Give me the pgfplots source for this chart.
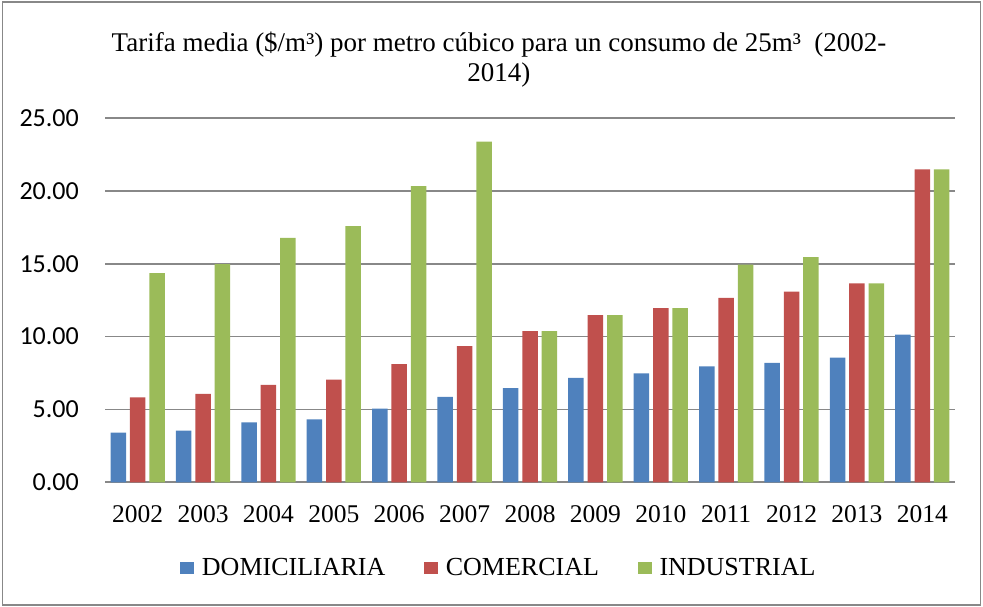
\documentclass[border=0pt]{standalone}
\usepackage{fontspec}
\setmainfont{Liberation Serif}
\newfontfamily\calibri{Carlito}
\usepackage{pgfplots}
\usepackage{pgfplotstable}
\pgfplotsset{compat=1.18}

\definecolor{dom}{HTML}{4F81BD}
\definecolor{com}{HTML}{C0504D}
\definecolor{ind}{HTML}{9BBB59}
\definecolor{gridgray}{HTML}{888888}

% tarifa media ($/m3), consumo de 25 m3
\pgfplotstableread{
x  dom   com   ind
0  3.41  5.82  14.36
1  3.54  6.07  14.97
2  4.11  6.68  16.77
3  4.31  7.04  17.58
4  5.06  8.11  20.33
5  5.86  9.34  23.38
6  6.47  10.38 10.38
7  7.16  11.47 11.47
8  7.47  11.95 11.95
9  7.95  12.65 14.93
10 8.20  13.09 15.45
11 8.56  13.65 13.65
12 10.13 21.47 21.47
}\tarifas

\begin{document}
\begin{tikzpicture}
\begin{axis}[
    at={(105pt,124.7pt)}, anchor=south west,
    scale only axis,
    width=850pt, height=364.3pt,
    ybar=3.9pt, bar width=15.5pt,
    xmin=-0.5, xmax=12.5,
    ymin=0, ymax=25,
    xtick={0,...,12},
    xticklabels={2002,2003,2004,2005,2006,2007,2008,2009,2010,2011,2012,2013,2014},
    ytick={0,5,...,25},
    /pgf/number format/.cd, fixed, fixed zerofill, precision=2, assume math mode=true,
    /pgfplots/.cd,
    major tick length=0pt,
    axis line style={draw=none},
    ymajorgrids=true,
    grid style={line width=1.8pt, gridgray},
    yticklabel style={font=\calibri\fontsize{26}{26}\selectfont, anchor=east, inner sep=0pt, xshift=-26pt},
    xticklabel style={font=\fontsize{25.5}{25.5}\selectfont, anchor=north, inner sep=0pt, yshift=-22.7pt},
    title={Tarifa media (\$/m³) por metro cúbico para un consumo de 25m³~ (2002-\\2014)},
    title style={font=\fontsize{27}{30}\selectfont, align=center, at={(0.4635,1.1427)}, anchor=center, inner sep=0pt},
    legend columns=3,
    legend style={draw=none, font=\fontsize{26}{26}\selectfont, at={(0.4635,-0.235)}, anchor=center,
        /tikz/every odd column/.append style={column sep=6pt},
        /tikz/every even column/.append style={column sep=37pt},
        inner sep=0pt},
]
\addplot[fill=dom, draw=none, legend image code/.code={\fill[dom] (0pt,-6.25pt) rectangle (13.5pt,6.25pt);}] table[x=x, y=dom] {\tarifas};
\addlegendentry{DOMICILIARIA}
\addplot[fill=com, draw=none, legend image code/.code={\fill[com] (0pt,-6.25pt) rectangle (13.5pt,6.25pt);}] table[x=x, y=com] {\tarifas};
\addlegendentry{COMERCIAL}
\addplot[fill=ind, draw=none, legend image code/.code={\fill[ind] (0pt,-6.25pt) rectangle (13.5pt,6.25pt);}] table[x=x, y=ind] {\tarifas};
\addlegendentry{INDUSTRIAL}
\end{axis}
\pgfresetboundingbox
\draw[gridgray, line width=1.3pt] (2.5pt,2pt) rectangle (980.5pt,605pt);
\path (0pt,0pt) rectangle (983pt,607pt);
\end{tikzpicture}
\end{document}
